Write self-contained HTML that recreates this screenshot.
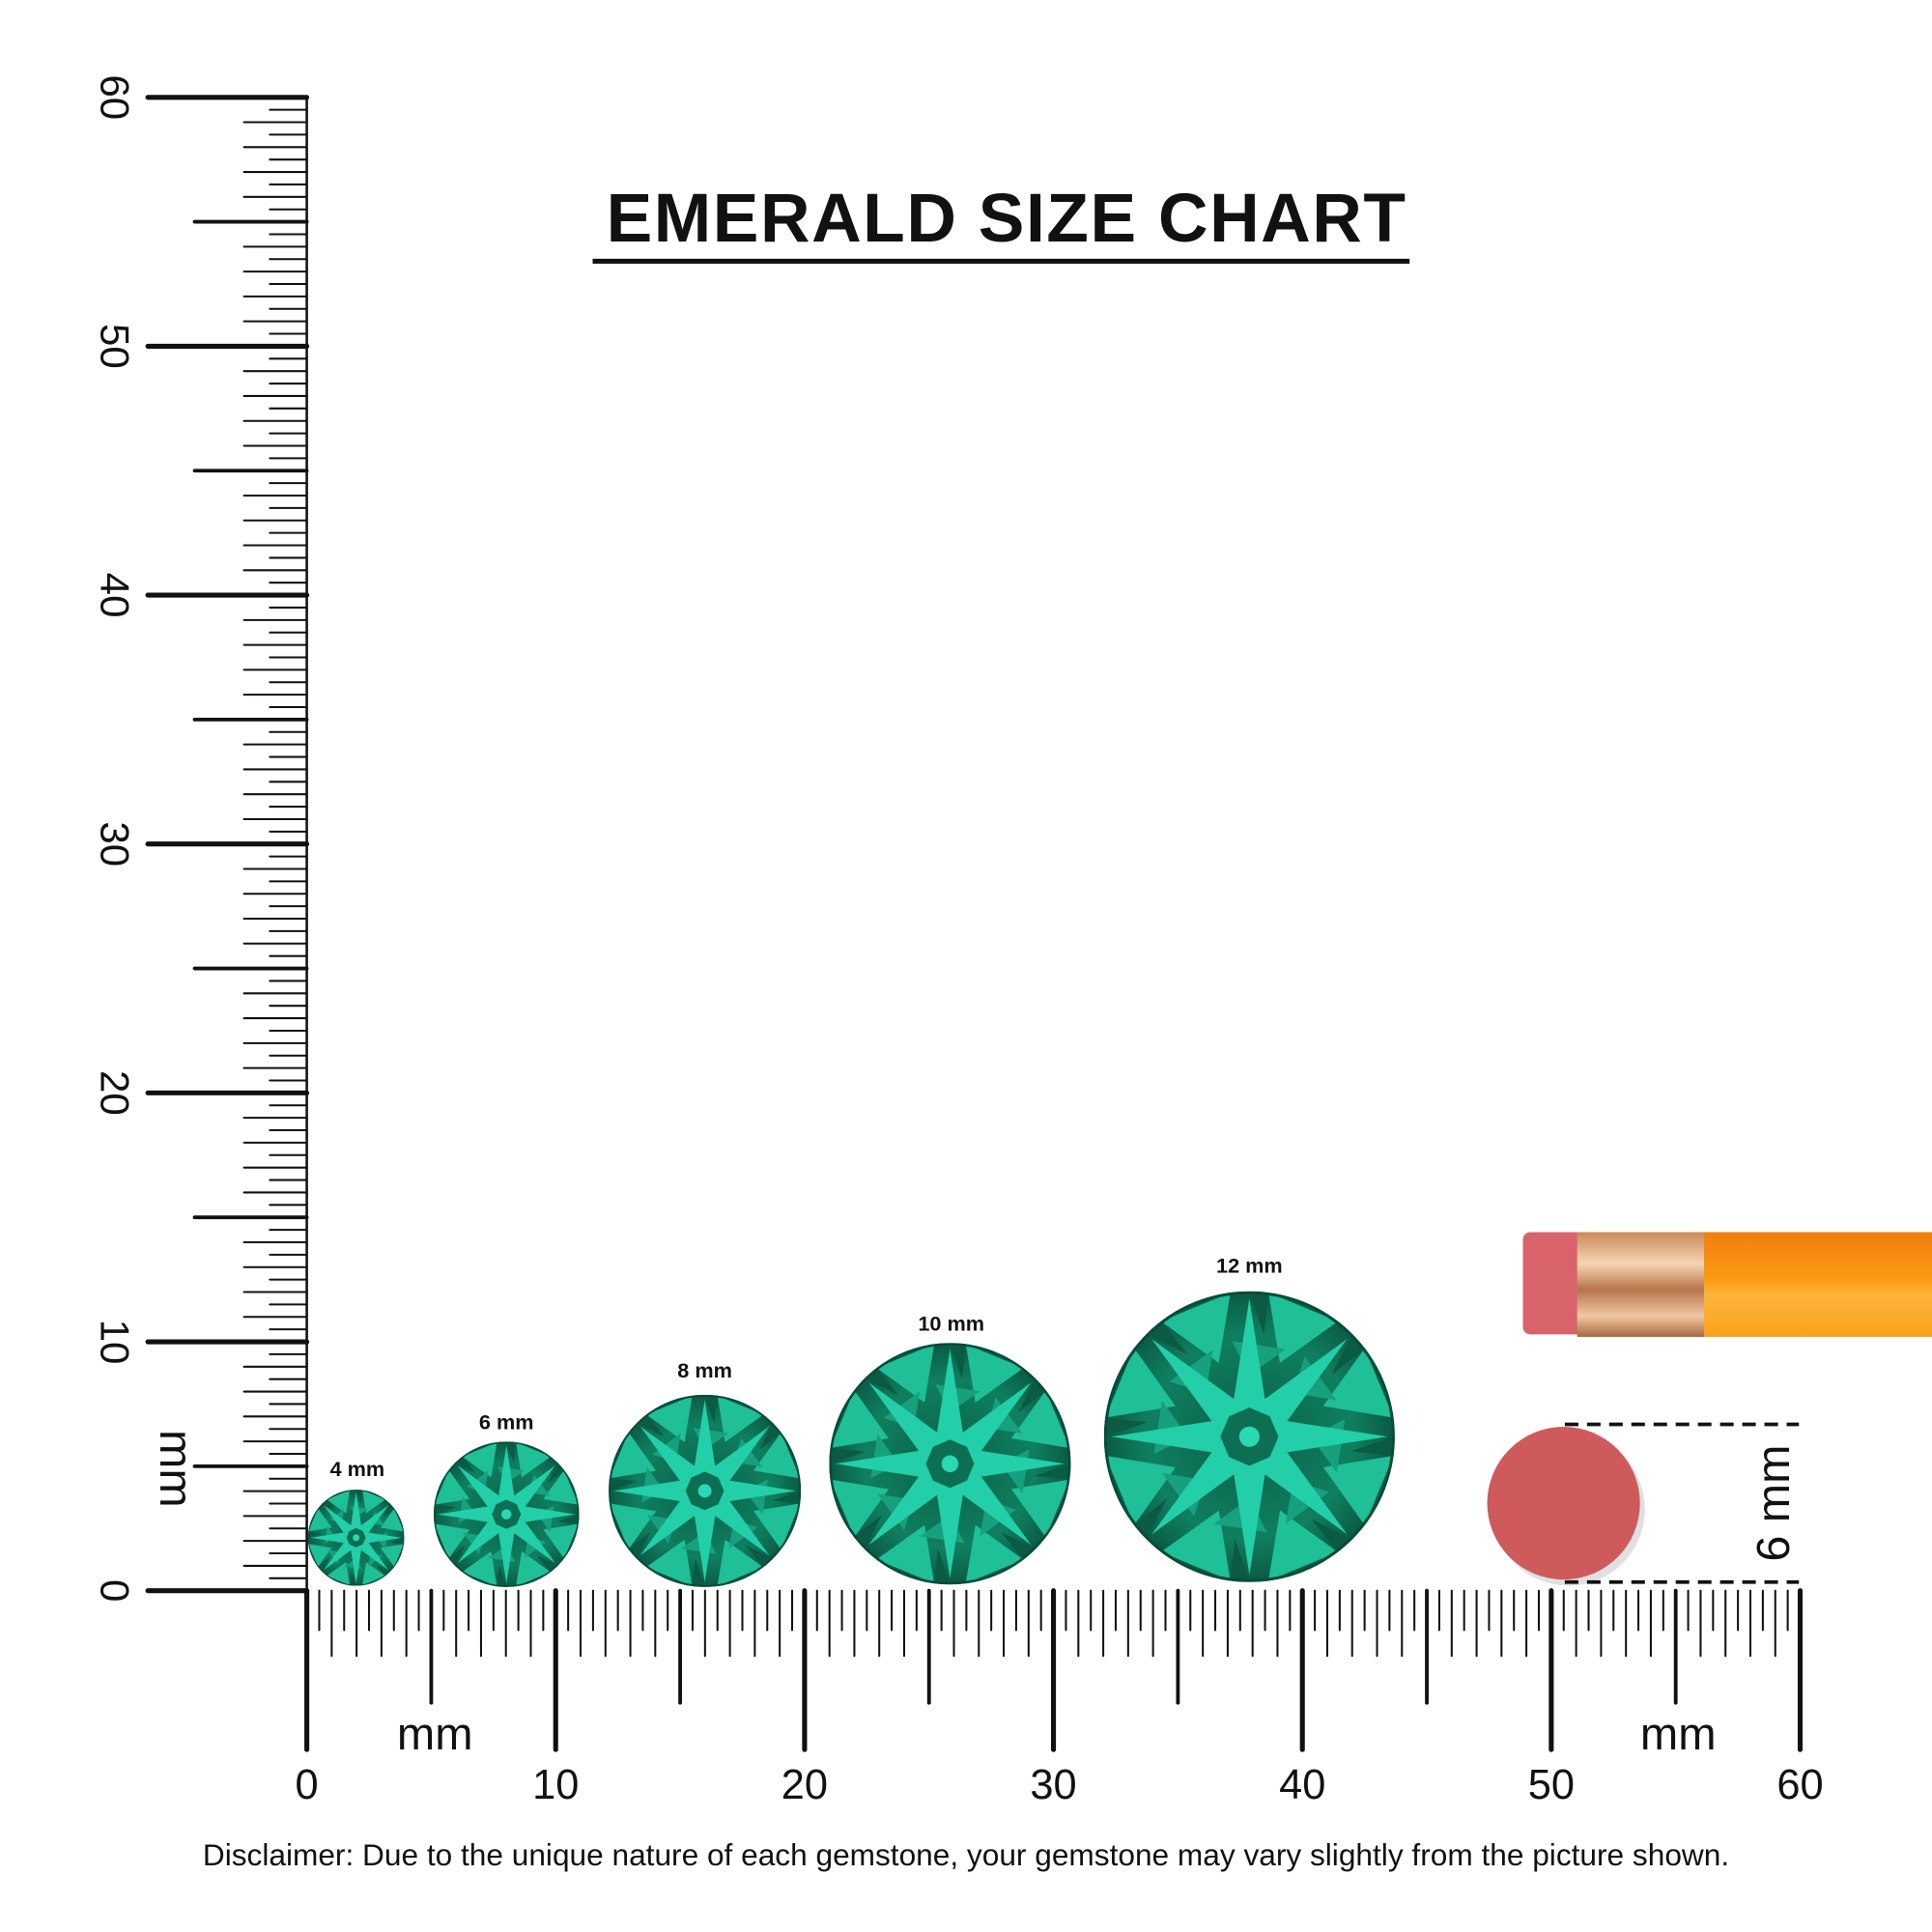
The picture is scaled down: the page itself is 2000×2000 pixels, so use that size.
<!DOCTYPE html>
<html><head><meta charset="utf-8"><style>
html,body{margin:0;padding:0;background:#fff;}
svg{display:block;}
text{font-family:"Liberation Sans",sans-serif;}
</style></head><body>
<svg width="2000" height="2000" viewBox="0 0 1568 1568" xmlns="http://www.w3.org/2000/svg">
<defs>
<radialGradient id="gg" cx="50%" cy="50%" r="50%">
<stop offset="0" stop-color="#0a5e46"/><stop offset="0.7" stop-color="#0f7f60"/><stop offset="1" stop-color="#0a5a44"/>
</radialGradient>
<linearGradient id="orange" x1="0" y1="0" x2="0" y2="1">
<stop offset="0" stop-color="#f07f10"/><stop offset="0.45" stop-color="#fb9a12"/><stop offset="0.6" stop-color="#ffb43a"/><stop offset="1" stop-color="#f9a21c"/>
</linearGradient>
<linearGradient id="ferr" x1="0" y1="0" x2="0" y2="1">
<stop offset="0" stop-color="#c98a5a"/><stop offset="0.3" stop-color="#f6d4b4"/><stop offset="0.55" stop-color="#b8744a"/><stop offset="0.8" stop-color="#f0c8a4"/><stop offset="1" stop-color="#a86a40"/>
</linearGradient>
<symbol id="gem" viewBox="-1 -1 2 2">
<circle r="1" fill="url(#gg)"/>
<g id="ring">
<polygon points=".131,-.991 .609,-.793 .21,-.508" fill="#1fbf98"/>
<polygon points="0,-1 .131,-.991 .1,-.7" fill="#0a5a44"/>
</g>
<use href="#ring" transform="rotate(45)"/><use href="#ring" transform="rotate(90)"/><use href="#ring" transform="rotate(135)"/>
<use href="#ring" transform="rotate(180)"/><use href="#ring" transform="rotate(225)"/><use href="#ring" transform="rotate(270)"/><use href="#ring" transform="rotate(315)"/>
<g id="mid"><polygon points=".38,-.55 .6,-.25 .3,-.3" fill="#17a07e"/></g>
<use href="#mid" transform="rotate(45)"/><use href="#mid" transform="rotate(90)"/><use href="#mid" transform="rotate(135)"/>
<use href="#mid" transform="rotate(180)"/><use href="#mid" transform="rotate(225)"/><use href="#mid" transform="rotate(270)"/><use href="#mid" transform="rotate(315)"/>
<polygon points="0,-.95 .107,-.259 .672,-.672 .259,-.107 .95,0 .259,.107 .672,.672 .107,.259 0,.95 -.107,.259 -.672,.672 -.259,.107 -.95,0 -.259,-.107 -.672,-.672 -.107,-.259" fill="#22cfa8"/>
<polygon points="0,-.2 .14,-.14 .2,0 .14,.14 0,.2 -.14,.14 -.2,0 -.14,-.14" fill="#0c6e52"/>
<circle r=".07" fill="#2ad8b2"/>
<circle r=".99" fill="none" stroke="#084c3a" stroke-width=".02"/>
</symbol>
</defs>

<text x="817" y="196" font-size="56" font-weight="bold" text-anchor="middle" fill="#111" letter-spacing="1.2">EMERALD SIZE CHART</text>
<rect x="481" y="210" width="663" height="4" fill="#111"/>

<line x1="249" y1="79" x2="249" y2="1291" stroke="#111" stroke-width="2"/>
<line x1="249" y1="1291" x2="249" y2="1420" stroke="#111" stroke-width="4" stroke-linecap="round"/>

<g font-size="33" fill="#111" text-anchor="middle">
<text transform="translate(82,1291) rotate(90)">0</text>
<text transform="translate(82,1089) rotate(90)">10</text>
<text transform="translate(82,887) rotate(90)">20</text>
<text transform="translate(82,685) rotate(90)">30</text>
<text transform="translate(82,483) rotate(90)">40</text>
<text transform="translate(82,281) rotate(90)">50</text>
<text transform="translate(82,79) rotate(90)">60</text>
<text transform="translate(130,1192) rotate(90)" font-size="38">mm</text>
</g>
<g font-size="34" fill="#111" text-anchor="middle">
<text x="249" y="1460">0</text>
<text x="451" y="1460">10</text>
<text x="653" y="1460">20</text>
<text x="855" y="1460">30</text>
<text x="1057" y="1460">40</text>
<text x="1259" y="1460">50</text>
<text x="1461" y="1460">60</text>
<text x="353" y="1420" font-size="37">mm</text>
<text x="1362" y="1420" font-size="37">mm</text>
</g>

<use href="#gem" x="250" y="1209" width="78" height="78"/>
<use href="#gem" x="352" y="1170" width="118" height="118"/>
<use href="#gem" x="494" y="1132" width="156" height="156"/>
<use href="#gem" x="673" y="1090" width="196" height="196"/>
<use href="#gem" x="896" y="1048" width="236" height="236"/>
<g font-size="17" font-weight="bold" fill="#111" text-anchor="middle">
<text x="290" y="1198">4 mm</text>
<text x="411" y="1160">6 mm</text>
<text x="572" y="1118">8 mm</text>
<text x="772" y="1080">10 mm</text>
<text x="1014" y="1033">12 mm</text>
</g>

<rect x="1236" y="1000" width="60" height="83" rx="6" fill="#d9636b"/>
<rect x="1280" y="1000" width="104" height="85" fill="url(#ferr)"/>
<rect x="1383" y="1000" width="185" height="85" fill="url(#orange)"/>

<circle cx="1273" cy="1225" r="62" fill="#000" opacity="0.12"/>
<circle cx="1269" cy="1220" r="62" fill="#cf5a5c"/>
<g stroke="#111" stroke-width="3" stroke-dasharray="11 7">
<line x1="1270" y1="1156" x2="1460" y2="1156"/>
<line x1="1270" y1="1284" x2="1460" y2="1284"/>
</g>
<text transform="translate(1452,1220) rotate(-90)" font-size="38" fill="#111" text-anchor="middle">6 mm</text>

<text x="784" y="1514" font-size="24.8" fill="#111" text-anchor="middle">Disclaimer: Due to the unique nature of each gemstone, your gemstone may vary slightly from the picture shown.</text>
</svg>
<script>
(function(){
var ns="http://www.w3.org/2000/svg",s=document.querySelector("svg");
function L(x1,y1,x2,y2,w){var l=document.createElementNS(ns,"line");l.setAttribute("x1",x1);l.setAttribute("y1",y1);l.setAttribute("x2",x2);l.setAttribute("y2",y2);l.setAttribute("stroke","#111");l.setAttribute("stroke-width",w);l.setAttribute("stroke-linecap","round");s.appendChild(l);}
var u=20.2;
for(var i=1;i<=120;i++){var mm=i/2,y=1291-mm*u,x=249+mm*u;
 if(mm%10==0){L(120,y,249,y,4);L(x,1291,x,1420,4);}
 else if(mm%5==0){L(158,y,249,y,3);L(x,1291,x,1382,3);}
 else if(i%2==0){L(198,y,249,y,1.6);L(x,1291,x,1344,1.6);}
 else{L(219,y,249,y,1.6);L(x,1291,x,1323,1.6);}
}
L(120,1291,249,1291,4);
})();
</script>
</body></html>
